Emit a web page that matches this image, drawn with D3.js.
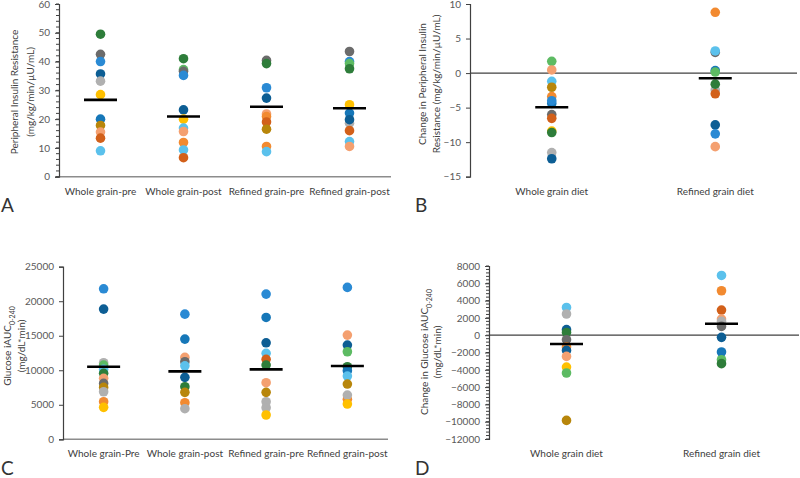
<!DOCTYPE html>
<html><head><meta charset="utf-8">
<script src="https://cdn.jsdelivr.net/npm/d3@7"></script>
<style>
body{margin:0;background:#fff;}
svg{display:block;font-family:Lato,"Open Sans",sans-serif;}
</style></head>
<body><svg id="c" width="800" height="478"></svg>
<script>
// ---------- DATA ----------
const subjects = ["s01","s02","s03","s04","s05","s06","s07","s08","s09","s10","s11","s12","s13"];
const subjectColors = ["#2E7D3A","#6B6B6B","#2A8AD4","#0D5E94","#B0B0B0","#FFC000","#1677B8","#B8860B","#F4A070","#D2601A","#5BC1EC","#F28A30","#5DBB63"];

// Panel A: Peripheral insulin resistance
const catsA = ["Whole grain-pre","Whole grain-post","Refined grain-pre","Refined grain-post"];
const aWgPreSubj  = ["s01","s02","s03","s04","s05","s06","s07","s08","s09","s10","s11"];
const aWgPreVal   = [49.5,42.5,40,35.7,33.2,28.5,20,17.8,15.5,13.4,9];
const aWgPostSubj = ["s01","s13","s02","s03","s04","s06","s11","s09","s12","s11","s10"];
const aWgPostVal  = [41,37.2,36.6,35.2,23.2,20,16.9,15.7,11.9,9.3,6.6];
const aRgPreSubj  = ["s02","s01","s03","s04","s09","s12","s10","s08","s12","s11"];
const aRgPreVal   = [40.4,39.3,30.9,27.3,21.8,20.9,19,16.5,10.5,8.7];
const aRgPostSubj = ["s02","s03","s13","s01","s06","s07","s05","s04","s10","s11","s09"];
const aRgPostVal  = [43.5,40,39.3,37.5,25,22.1,18.6,19.8,16,12.2,10.5];
const meansA = [26.7,20.9,24.3,23.8];
const ticksA = [0,10,20,30,40,50,60];

// Panel B: Change in peripheral insulin resistance
const catsB = ["Whole grain diet","Refined grain diet"];
const bWgSubj = ["s13","s09","s11","s08","s12","s07","s03","s02","s10","s06","s01","s05","s04"];
const bWgVal  = [1.7,0.45,-1.2,-2.05,-3.4,-4.4,-4.0,-6.0,-6.55,-8.4,-8.6,-11.5,-12.4];
const bRgSubj = ["s12","s02","s11","s07","s13","s05","s01","s10","s04","s03","s09"];
const bRgVal  = [8.8,3.0,3.2,0.35,0.15,-2.45,-1.6,-3.0,-7.5,-8.8,-10.65];
const meansB = [-4.95,-0.75];
const ticksB = [-15,-10,-5,0,5,10];

// Panel C: Glucose iAUC
const catsC = ["Whole grain-Pre","Whole grain-post","Refined grain-pre","Refined grain-post"];
const cWgPreSubj  = ["s03","s04","s05","s13","s11","s01","s09","s02","s08","s05","s12","s06"];
const cWgPreVal   = [21800,18860,11090,10750,10130,9550,8830,8100,7520,6890,5440,4630];
const cWgPostSubj = ["s03","s07","s09","s02","s11","s04","s01","s08","s12","s05"];
const cWgPostVal  = [18130,14510,11870,11230,10650,8970,7610,6800,5300,4430];
const cRgPreSubj  = ["s03","s07","s04","s11","s10","s01","s09","s08","s05","s05","s06"];
const cRgPreVal   = [21030,17650,13980,12450,11580,10750,8200,6800,5440,4570,3520];
const cRgPostSubj = ["s03","s09","s04","s13","s01","s07","s11","s08","s12","s05","s06"];
const cRgPostVal  = [22000,15090,13650,12680,10510,9930,9160,8000,5790,6410,5110];
const meansC = [10510,9840,10130,10610];
const ticksC = [0,5000,10000,15000,20000,25000];

// Panel D: Change in glucose iAUC
const catsD = ["Whole grain diet","Refined grain diet"];
const dWgSubj = ["s11","s05","s04","s01","s02","s12","s04","s09","s06","s13","s08"];
const dWgVal  = [3210,2450,640,320,-520,-1360,-1760,-2450,-3680,-4370,-9850];
const dRgSubj = ["s11","s12","s10","s09","s05","s02","s04","s07","s13","s01"];
const dRgVal  = [6910,5140,2910,1870,1600,1020,-250,-1940,-2830,-3290];
const meansD = [-1020,1330];
const ticksD = [-12000,-10000,-8000,-6000,-4000,-2000,0,2000,4000,6000,8000];

// ---------- DRAW ----------
const svg = d3.select("#c");
const color = d3.scaleOrdinal().domain(subjects).range(subjectColors);
const FS = "10px";

function zip(s, v){ return s.map((k,i)=>({subj:k, value:v[i]})); }

function panel(o){
  const g = svg.append("g");
  const x = d3.scaleBand().domain(o.cats).range([o.x0, o.x1]);
  const y = d3.scaleLinear().domain(o.domain).range([o.y0, o.y1]);

  if (o.bottomLine) {
    g.append("line").attr("x1", o.x0).attr("x2", o.x1).attr("y1", y(o.domain[0])).attr("y2", y(o.domain[0]))
      .attr("stroke", "#8c8c8c").attr("stroke-width", 1.5);
  }
  if (o.zeroLine) {
    g.append("line").attr("x1", o.x0).attr("x2", o.x1).attr("y1", y(0)).attr("y2", y(0))
      .attr("stroke", "#404040").attr("stroke-width", 1.2);
  }
  if (o.minor) {
    const minors = d3.range(o.domain[0], o.domain[1] + 1e-9, o.minor);
    g.append("g").selectAll("line").data(minors).join("line")
      .attr("x1", o.x0 - 3).attr("x2", o.x0).attr("y1", d=>y(d)).attr("y2", d=>y(d))
      .attr("stroke", "#404040").attr("stroke-width", 1);
  }
  const ax = g.append("g").attr("transform", `translate(${o.x0},0)`)
    .call(d3.axisLeft(y).tickValues(o.ticks).tickSize(4).tickPadding(5).tickFormat(d3.format("d")));
  ax.select(".domain").attr("stroke", "#404040").attr("stroke-width", 1.2);
  ax.selectAll(".tick line").attr("stroke", "#404040");
  ax.selectAll(".tick text").attr("fill", "#595959").style("font-size", FS).style("font-family", "Lato,'Open Sans',sans-serif");

  g.append("g").selectAll("text").data(o.cats).join("text")
    .attr("x", d => x(d) + x.bandwidth()/2).attr("y", o.labelY)
    .attr("text-anchor", "middle").attr("fill", "#404040").style("font-size", FS)
    .text(d => d);

  o.series.forEach((pts, i) => {
    const cx = x(o.cats[i]) + x.bandwidth()/2;
    g.append("g").selectAll("circle").data(pts).join("circle")
      .attr("cx", cx).attr("cy", d => y(d.value)).attr("r", 4.8)
      .attr("fill", d => color(d.subj));
  });
  g.append("g").selectAll("line").data(o.means).join("line")
    .attr("x1", (d,i) => x(o.cats[i]) + x.bandwidth()/2 - 16.5)
    .attr("x2", (d,i) => x(o.cats[i]) + x.bandwidth()/2 + 16.5)
    .attr("y1", d => y(d)).attr("y2", d => y(d))
    .attr("stroke", "#000").attr("stroke-width", 2.6);

  const t = g.append("text").attr("transform", `translate(${o.titleX},${o.titleY}) rotate(-90)`)
    .attr("text-anchor", "middle").attr("fill", "#404040").style("font-size", FS);
  o.title.forEach((line, i) => {
    const ts = t.append("tspan").attr("x", 0).attr("dy", i === 0 ? 0 : o.titleGap);
    line.forEach(seg => {
      if (seg.sub) {
        ts.append("tspan").attr("baseline-shift", "sub").style("font-size", "7px").text(seg.t);
      } else {
        ts.append("tspan").text(seg.t);
      }
    });
  });
  g.append("text").attr("x", o.letterX).attr("y", o.letterY).attr("fill", "#333")
    .style("font-size", "19px").text(o.letter);
}

panel({
  cats: catsA, x0: 59, x1: 391, domain: [0, 60], y0: 176.7, y1: 4, ticks: ticksA, minor: 2,
  bottomLine: true, labelY: 195,
  series: [zip(aWgPreSubj,aWgPreVal), zip(aWgPostSubj,aWgPostVal), zip(aRgPreSubj,aRgPreVal), zip(aRgPostSubj,aRgPostVal)],
  means: meansA,
  title: [[{t:"Peripheral Insulin Resistance"}],[{t:"(mg/kg/min/µU/mL)"}]], titleX: 18, titleY: 92, titleGap: 16,
  letter: "A", letterX: 1, letterY: 212
});
panel({
  cats: catsB, x0: 470, x1: 797, domain: [-15, 10], y0: 176.7, y1: 4, ticks: ticksB,
  zeroLine: true, labelY: 195,
  series: [zip(bWgSubj,bWgVal), zip(bRgSubj,bRgVal)],
  means: meansB,
  title: [[{t:"Change in Peripheral Insulin"}],[{t:"Resistance (mg/kg/min/µU/mL)"}]], titleX: 426, titleY: 84, titleGap: 14,
  letter: "B", letterX: 415, letterY: 212
});
panel({
  cats: catsC, x0: 63, x1: 388, domain: [0, 25000], y0: 439.3, y1: 266.7, ticks: ticksC,
  bottomLine: true, labelY: 457,
  series: [zip(cWgPreSubj,cWgPreVal), zip(cWgPostSubj,cWgPostVal), zip(cRgPreSubj,cRgPreVal), zip(cRgPostSubj,cRgPostVal)],
  means: meansC,
  title: [[{t:"Glucose iAUC"},{t:"0-240",sub:true}],[{t:"(mg/dL*min)"}]], titleX: 11, titleY: 346, titleGap: 14,
  letter: "C", letterX: 1, letterY: 475
});
panel({
  cats: catsD, x0: 489, x1: 799, domain: [-12000, 8000], y0: 439, y1: 266, ticks: ticksD, minor: 400,
  zeroLine: true, labelY: 457,
  series: [zip(dWgSubj,dWgVal), zip(dRgSubj,dRgVal)],
  means: meansD,
  title: [[{t:"Change in Glucose iAUC"},{t:"0-240",sub:true}],[{t:"(mg/dL*min)"}]], titleX: 428, titleY: 352, titleGap: 13,
  letter: "D", letterX: 415, letterY: 475
});
</script></body></html>
